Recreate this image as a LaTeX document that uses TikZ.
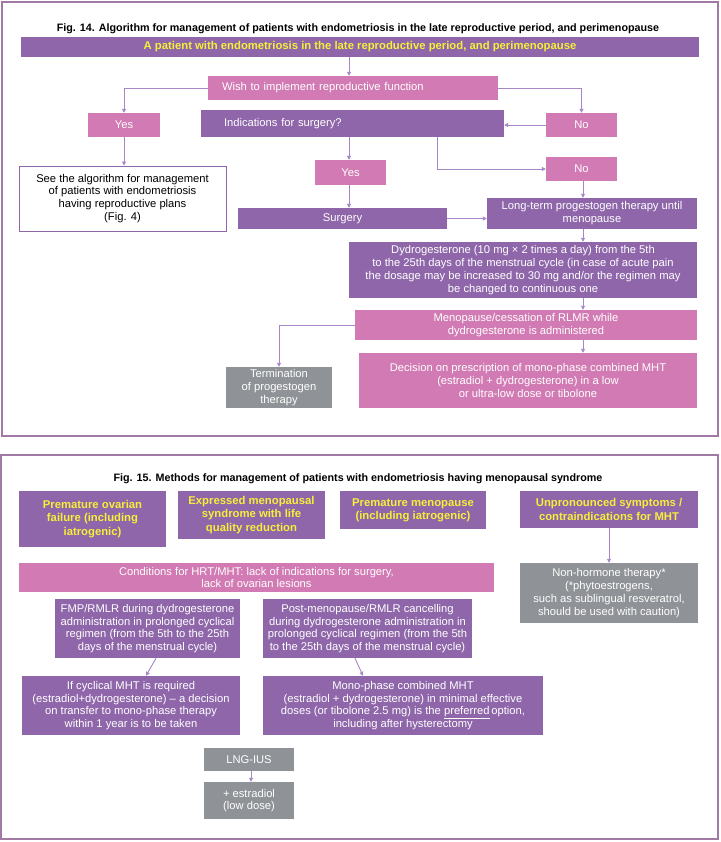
\documentclass[tikz,border=0pt]{standalone}
\usepackage{fontspec}
\setmainfont{Liberation Sans}
\usetikzlibrary{arrows.meta}
\definecolor{purp}{HTML}{8E66A9}
\definecolor{pinkb}{HTML}{D17AB3}
\definecolor{grayb}{HTML}{8F9296}
\definecolor{yel}{HTML}{F7EE3A}
\definecolor{linec}{HTML}{A887C6}
\definecolor{framec}{HTML}{A07AA2}
\pgfdeclarelayer{bg}
\pgfsetlayers{bg,main}
\begin{document}
\begin{tikzpicture}[x=1pt,y=-1pt,
  bx/.style={inner sep=0pt, align=center, text=white, font=\fontsize{11.2}{12.8}\selectfont},
  pu/.style={bx, fill=purp},
  pk/.style={bx, fill=pinkb},
  gr/.style={bx, fill=grayb},
  yl/.style={pu, text=yel, font=\bfseries\fontsize{11.3}{13.3}\selectfont},
  wb/.style={bx, fill=white, draw=purp, line width=0.9pt, text=black},
  ttl/.style={inner sep=0pt, font=\bfseries\fontsize{10.75}{12}\selectfont},
  ln/.style={draw=linec, line width=0.9pt},
  arr/.style={ln, -{Triangle[length=4pt,width=4pt]}},
  frm/.style={draw=framec, line width=1.4pt}
]
\useasboundingbox (0,0) rectangle (720,842);
\fill[white] (0,0) rectangle (720,842);
% ---------- Fig 14 ----------
\draw[frm] (2,2) rectangle (718,436);
\node[ttl] (t14) at (358,29) {Fig. 14. Algorithm for management of patients with endometriosis in the late reproductive period, and perimenopause};
\node[yl, minimum width=678pt, minimum height=20pt] (top) at (360,47) {A patient with endometriosis in the late reproductive period, and perimenopause};
\node[pk, align=left, inner xsep=14pt, text width=262pt, minimum height=24pt] (wish) at (353,88) {Wish to implement reproductive function};
\node[pk, minimum width=72pt, minimum height=24pt] (yes1) at (124,125) {Yes};
\node[pu, align=left, inner xsep=23pt, text width=257pt, minimum height=27pt] (ind) at (352.5,123.5) {Indications for surgery?};
\node[pk, minimum width=71pt, minimum height=24pt] (no1) at (581.5,125) {No};
\node[wb, minimum width=207pt, minimum height=65pt] (see) at (122.5,198.5) {See the algorithm for management\\of patients with endometriosis\\having reproductive plans\\(Fig. 4)};
\node[pk, minimum width=71pt, minimum height=25pt] (yes2) at (350.5,172.5) {Yes};
\node[pk, minimum width=71pt, minimum height=24pt] (no2) at (581.5,169) {No};
\node[pu, minimum width=209pt, minimum height=21pt] (surg) at (342.5,218.5) {Surgery};
\node[pu, minimum width=210pt, minimum height=31pt] (long) at (592,213.5) {Long-term progestogen therapy until\\menopause};
\node[pu, minimum width=348pt, minimum height=56pt] (dyd) at (523,270) {Dydrogesterone (10 mg × 2 times a day) from the 5th\\to the 25th days of the menstrual cycle (in case of acute pain\\the dosage may be increased to 30 mg and/or the regimen may\\be changed to continuous one};
\node[pk, minimum width=342pt, minimum height=30pt] (meno) at (526,325) {Menopause/cessation of RLMR while\\dydrogesterone is administered};
\node[gr, minimum width=106pt, minimum height=41pt] (term) at (279,387.5) {Termination\\of progestogen\\therapy};
\node[pk, minimum width=338pt, minimum height=55pt] (dec) at (528,380.5) {Decision on prescription of mono-phase combined MHT\\(estradiol + dydrogesterone) in a low\\or ultra-low dose or tibolone};
% connectors fig 14
\draw[arr] ([xshift=-4pt]wish.north |- top.south) -- ([xshift=-4pt]wish.north);
\draw[arr] (wish.west) -| (yes1.north);
\draw[arr] (wish.east) -| (no1.north);
\draw[arr] (no1.west) -- (no1.west -| ind.east);
\draw[arr] (yes1.south) -- (yes1.south |- see.north);
\draw[arr] ([xshift=-1.5pt]yes2.north |- ind.south) -- ([xshift=-1.5pt]yes2.north);
\draw[arr] ([xshift=84.5pt]ind.south) |- (no2.west);
\draw[arr] ([xshift=-1.5pt]yes2.south) -- ([xshift=-1.5pt]yes2.south |- surg.north);
\draw[arr] (surg.east) -- (surg.east -| long.west);
\draw[arr] ([xshift=1.5pt]no2.south) -- ([xshift=1.5pt]no2.south |- long.north);
\draw[arr] ([xshift=1.5pt]no2.south |- long.south) -- ([xshift=1.5pt]no2.south |- dyd.north);
\draw[arr] ([xshift=1.5pt]no2.south |- dyd.south) -- ([xshift=1.5pt]no2.south |- meno.north);
\draw[arr] ([xshift=1.5pt]no2.south |- meno.south) -- ([xshift=1.5pt]no2.south |- dec.north);
\draw[arr] (meno.west) -| (term.north);
% ---------- Fig 15 ----------
\draw[frm] (1,455) rectangle (718,839);
\node[ttl] (t15) at (358,479) {Fig. 15. Methods for management of patients with endometriosis having menopausal syndrome};
\node[yl, minimum width=147pt, minimum height=56pt] (pof) at (92.5,519) {Premature ovarian\\failure (including\\iatrogenic)};
\node[yl, minimum width=147pt, minimum height=48pt] (exp) at (251.5,515) {Expressed menopausal\\syndrome with life\\quality reduction};
\node[yl, minimum width=146pt, minimum height=38pt] (pm) at (413,510) {Premature menopause\\(including iatrogenic)};
\node[yl, minimum width=178pt, minimum height=37pt] (unp) at (609,509.5) {Unpronounced symptoms /\\contraindications for MHT};
\node[pk, minimum width=475pt, minimum height=29pt] (cond) at (256.5,577.5) {Conditions for HRT/MHT: lack of indications for surgery,\\lack of ovarian lesions};
\node[gr, minimum width=178pt, minimum height=60pt] (non) at (609,593) {Non-hormone therapy*\\(*phytoestrogens,\\such as sublingual resveratrol,\\should be used with caution)};
\node[pu, minimum width=185pt, minimum height=59pt] (fmp) at (147.5,628.5) {FMP/RMLR during dydrogesterone\\administration in prolonged cyclical\\regimen (from the 5th to the 25th\\days of the menstrual cycle)};
\node[pu, minimum width=209pt, minimum height=59pt] (post) at (367.5,628.5) {Post-menopause/RMLR cancelling\\during dydrogesterone administration in\\prolonged cyclical regimen (from the 5th\\to the 25th days of the menstrual cycle)};
\node[pu, minimum width=218pt, minimum height=59pt] (ifc) at (131,705.5) {If cyclical MHT is required\\(estradiol+dydrogesterone) – a decision\\on transfer to mono-phase therapy\\within 1 year is to be taken};
\node[pu, minimum width=280pt, minimum height=59pt] (mono) at (403,705.5) {Mono-phase combined MHT\\(estradiol + dydrogesterone) in minimal effective\\doses (or tibolone 2.5 mg) is the \underline{preferred}\,option,\\including after hysterectomy};
\node[gr, minimum width=90pt, minimum height=23pt] (lng) at (249,759.5) {LNG-IUS};
\node[gr, minimum width=90pt, minimum height=37pt] (est) at (249,800.5) {+ estradiol\\(low dose)};
% connectors fig 15
\begin{pgfonlayer}{bg}
\draw[arr] ([xshift=19pt]pof.south west) -- ([xshift=19pt]pof.south west |- ifc.north);
\draw[ln] ([xshift=30pt]exp.south west) -- ([xshift=123pt]fmp.north west);
\draw[ln] ([xshift=-24pt]exp.south east) -- ([xshift=66pt]post.north west);
\draw[ln] (exp.south) -- (exp.south |- lng.north);
\draw[arr] ([xshift=-6pt]pm.south east) -- ([xshift=-6pt]pm.south east |- mono.north);
\end{pgfonlayer}
\draw[arr] (unp.south) -- (non.north);
\draw[arr] ([xshift=8.5pt]fmp.south) -- ([xshift=15pt]ifc.north);
\draw[arr] ([xshift=-12.5pt]post.south) -- ([xshift=-40pt]mono.north);
\draw[arr] ([xshift=2pt]lng.south) -- ([xshift=2pt]est.north);
\end{tikzpicture}
\end{document}
